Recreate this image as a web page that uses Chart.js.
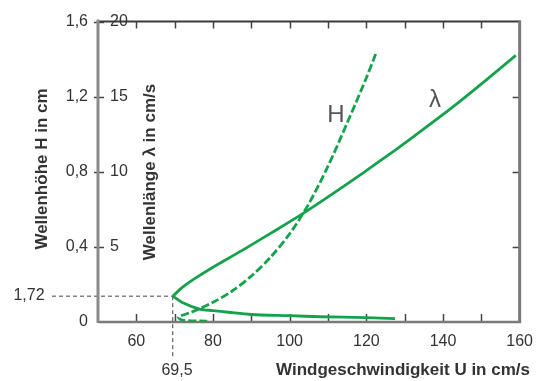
<!DOCTYPE html>
<html>
<head>
<meta charset="utf-8">
<script src="https://cdn.jsdelivr.net/npm/chart.js@4"></script>
<style>
html,body{margin:0;padding:0;background:#fff;}
canvas{display:block;}
</style>
</head>
<body>
<canvas id="c" width="543" height="381"></canvas>
<script>
// ---- data ----
const xTicks = [60, 80, 100, 120, 140, 160];
const hTicks = [0, 0.4, 0.8, 1.2, 1.6];
const lambdaTicks = [5, 10, 15, 20];

// Wellenlänge λ, upper (gravity) branch
const lambdaUpperU = [69.5, 72, 75, 80, 87.5, 95, 103, 111, 119, 127, 135, 143, 151, 159];
const lambdaUpperV = [1.72, 2.3, 2.85, 3.65, 4.75, 5.9, 7.15, 8.5, 9.9, 11.35, 12.85, 14.4, 16.05, 17.75];
// Wellenlänge λ, lower (capillary) branch
const lambdaLowerU = [69.5, 72, 76.5, 80, 84, 90, 100, 108, 120, 127.5];
const lambdaLowerV = [1.72, 1.3, 0.86, 0.76, 0.65, 0.5, 0.42, 0.35, 0.29, 0.22];
// Wellenhöhe H
const hU = [78.5, 72, 71, 74.5, 80, 85, 90, 95, 100, 105, 110, 115, 120, 122.5];
const hV = [0.005, 0.01, 0.026, 0.053, 0.105, 0.165, 0.245, 0.345, 0.47, 0.63, 0.83, 1.06, 1.3, 1.43];

const uMin = 69.5, lambdaMin = 1.72;

const GREEN = '#14a24c';
const pts = (xs, ys) => xs.map((x, i) => ({x, y: ys[i]}));
const fmt = v => String(Math.round(v * 10) / 10).replace('.', ',');

const framePlugin = {
  id: 'frame',
  beforeDatasetsDraw(chart) {
    const {ctx, chartArea: a, scales} = chart;
    const xs = scales.x, ys = scales.y, y2 = scales.y2;
    ctx.save();
    // guides at U = 69,5 and λ = 1,72
    ctx.strokeStyle = '#444';
    ctx.lineWidth = 1;
    ctx.setLineDash([4, 3]);
    const gx = xs.getPixelForValue(uMin);
    const gy = y2.getPixelForValue(lambdaMin);
    ctx.beginPath();
    ctx.moveTo(52, gy); ctx.lineTo(gx, gy);
    ctx.moveTo(gx, gy); ctx.lineTo(gx, 357);
    ctx.stroke();
    ctx.setLineDash([]);
    // ticks
    ctx.lineWidth = 1.5;
    ctx.strokeStyle = '#444';
    for (let v = 60; v <= 150; v += 10) {
      const px = Math.round(xs.getPixelForValue(v)) + 0.5;
      ctx.beginPath();
      ctx.moveTo(px, a.bottom); ctx.lineTo(px, a.bottom - 8);
      ctx.moveTo(px, a.top); ctx.lineTo(px, a.top + 7);
      ctx.stroke();
    }
    hTicks.forEach(v => {
      if (v === 0) return;
      const py = Math.round(ys.getPixelForValue(v)) + 0.5;
      ctx.beginPath();
      ctx.moveTo(a.left - 4, py); ctx.lineTo(a.left + 6, py);
      if (v < 1.6) { ctx.moveTo(a.right, py); ctx.lineTo(a.right - 7, py); }
      ctx.stroke();
    });
    // axis lines
    ctx.lineCap = 'butt';
    ctx.strokeStyle = '#3a3a3a';
    ctx.lineWidth = 2;
    ctx.beginPath(); ctx.moveTo(a.left, a.top); ctx.lineTo(a.right + 1, a.top); ctx.stroke();
    ctx.strokeStyle = '#7a7a7a';
    ctx.lineWidth = 3;
    ctx.beginPath(); ctx.moveTo(a.right, a.top - 1); ctx.lineTo(a.right, a.bottom); ctx.stroke();
    ctx.lineWidth = 2.5;
    ctx.beginPath(); ctx.moveTo(a.left, a.bottom); ctx.lineTo(a.right + 1.5, a.bottom); ctx.stroke();
    ctx.strokeStyle = '#8a8a8a';
    ctx.lineWidth = 3;
    ctx.beginPath(); ctx.moveTo(a.left, a.top - 2); ctx.lineTo(a.left, a.bottom + 1); ctx.stroke();
    ctx.restore();
  },
  afterDraw(chart) {
    const {ctx} = chart;
    ctx.save();
    ctx.fillStyle = '#333';
    ctx.textBaseline = 'middle';
    ctx.textAlign = 'center';
    ctx.font = '16px "Liberation Sans", Arial, sans-serif';
    ctx.fillText('1,72', 29, 296);
    ctx.fillText('69,5', 177, 371);
    ctx.font = 'bold 17px "Liberation Sans", Arial, sans-serif';
    ctx.fillText('Windgeschwindigkeit U in cm/s', 403, 370);
    ctx.save();
    ctx.translate(42, 169); ctx.rotate(-Math.PI / 2);
    ctx.fillText('Wellenhöhe H in cm', 0, 0);
    ctx.restore();
    ctx.save();
    ctx.translate(150, 172); ctx.rotate(-Math.PI / 2);
    ctx.fillText('Wellenlänge λ in cm/s', 0, 0);
    ctx.restore();
    ctx.fillStyle = '#555';
    ctx.font = '24px "Liberation Sans", Arial, sans-serif';
    ctx.fillText('H', 336, 115);
    ctx.fillText('λ', 435, 100);
    ctx.restore();
  }
};

new Chart(document.getElementById('c'), {
  type: 'scatter',
  data: {
    datasets: [
      {label: 'λ', data: pts(lambdaUpperU, lambdaUpperV), yAxisID: 'y2', showLine: true,
       borderColor: GREEN, borderWidth: 2.8, pointRadius: 0, tension: 0.3, fill: false},
      {label: 'λ (2)', data: pts(lambdaLowerU, lambdaLowerV), yAxisID: 'y2', showLine: true,
       borderColor: GREEN, borderWidth: 2.8, pointRadius: 0, tension: 0.3, fill: false},
      {label: 'H', data: pts(hU, hV), yAxisID: 'y', showLine: true,
       borderColor: GREEN, borderWidth: 2.8, borderDash: [8, 3], pointRadius: 0, tension: 0.3, fill: false}
    ]
  },
  options: {
    responsive: false,
    animation: false,
    layout: {padding: {top: 20, right: 22, left: 0, bottom: 0}},
    plugins: {legend: {display: false}, tooltip: {enabled: false}},
    scales: {
      x: {
        type: 'linear', position: 'bottom', min: 50, max: 160,
        afterBuildTicks: s => { s.ticks = xTicks.map(v => ({value: v})); },
        ticks: {autoSkip: false, maxRotation: 0, padding: 10, color: '#333',
                font: {size: 16, family: '"Liberation Sans", Arial, sans-serif'}},
        grid: {display: false, drawTicks: false},
        border: {display: false},
        afterFit: s => { s.height = 59; }
      },
      y: {
        type: 'linear', position: 'left', min: 0, max: 1.6, weight: 1,
        afterBuildTicks: s => { s.ticks = hTicks.map(v => ({value: v})); },
        ticks: {padding: 10, color: '#333', callback: v => fmt(v),
                font: {size: 16, family: '"Liberation Sans", Arial, sans-serif'}},
        grid: {display: false, drawTicks: false},
        border: {display: false},
        afterFit: s => { s.width = 98; }
      },
      y2: {
        type: 'linear', position: 'left', min: 0, max: 20, weight: 0,
        afterBuildTicks: s => { s.ticks = lambdaTicks.map(v => ({value: v})); },
        ticks: {mirror: true, padding: 12, color: '#333', callback: v => String(v),
                font: {size: 16, family: '"Liberation Sans", Arial, sans-serif'}},
        grid: {display: false, drawTicks: false},
        border: {display: false},
        afterFit: s => { s.width = 0; }
      }
    }
  },
  plugins: [framePlugin]
});
</script>
</body>
</html>
